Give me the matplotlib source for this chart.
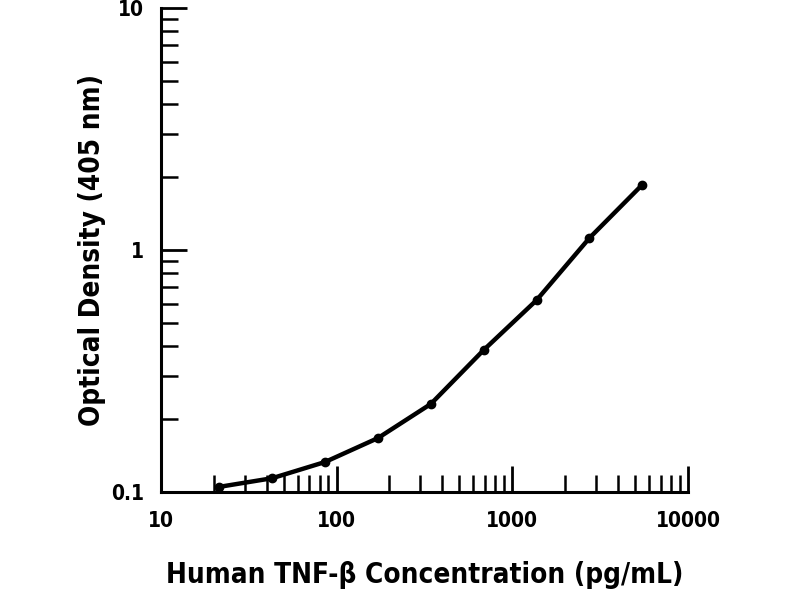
import matplotlib
matplotlib.use("Agg")
import matplotlib.pyplot as plt
from matplotlib.ticker import LogLocator, FixedLocator, NullFormatter

conc = [21.5, 43, 86, 172, 344, 688, 1375, 2750, 5500]
od = [0.105, 0.114, 0.133, 0.167, 0.231, 0.386, 0.62, 1.12, 1.86]
xticks = [10, 100, 1000, 10000]
xticklabels = ["10", "100", "1000", "10000"]
yticks = [0.1, 1, 10]
yticklabels = ["0.1", "1", "10"]

plt.rcParams['font.family'] = ['DejaVu Sans']
plt.rcParams['font.stretch'] = 'condensed'
fig = plt.figure(figsize=(8, 6), dpi=100)
ax = fig.add_axes([0.201, 0.18, 0.659, 0.807])
ax.plot(conc, od, color='black', lw=3.2, marker='o', ms=6, mfc='black', mec='black')
ax.set_xscale('log')
ax.set_yscale('log')
ax.set_xlim(10, 10000)
ax.set_ylim(0.1, 10)
for s in ['top', 'right']:
    ax.spines[s].set_visible(False)
for s in ['left', 'bottom']:
    ax.spines[s].set_linewidth(2.2)
ax.xaxis.set_major_locator(FixedLocator(xticks))
ax.set_xticklabels(xticklabels)
ax.yaxis.set_major_locator(FixedLocator(yticks))
ax.set_yticklabels(yticklabels)
ax.xaxis.set_minor_locator(LogLocator(base=10, subs=range(2, 10)))
ax.yaxis.set_minor_locator(LogLocator(base=10, subs=range(2, 10)))
ax.xaxis.set_minor_formatter(NullFormatter())
ax.yaxis.set_minor_formatter(NullFormatter())
ax.tick_params(which='major', direction='in', length=19, width=2, labelsize=15)
ax.tick_params(axis='x', which='major', pad=14)
ax.tick_params(axis='y', which='major', pad=12)
ax.tick_params(which='minor', direction='in', length=12, width=1.8)
for lab in ax.get_xticklabels() + ax.get_yticklabels():
    lab.set_fontweight('bold')
ax.set_xlabel('Human TNF-β Concentration (pg/mL)', fontsize=20, fontweight='bold', labelpad=21)
ax.set_ylabel('Optical Density (405 nm)', fontsize=20, fontweight='bold', labelpad=4)
fig.savefig('out.png', dpi=100)
